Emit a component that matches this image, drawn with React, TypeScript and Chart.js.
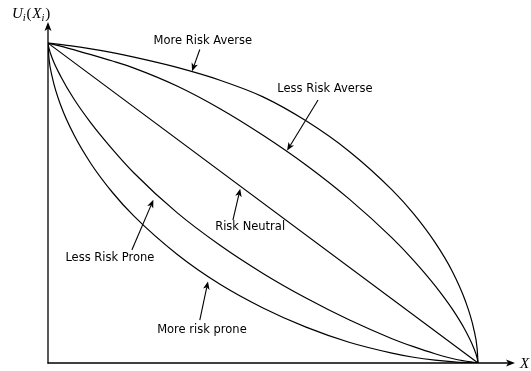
import React, { useEffect, useRef } from "react";
import { Chart, registerables } from "chart.js";
Chart.register(...registerables);

// Wealth grid (normalised X) for the concave / risk averse curves
const tAverse = [0, 0.05, 0.1, 0.15, 0.2, 0.3, 0.4, 0.5, 0.6, 0.7, 0.8, 0.85, 0.9, 0.94, 0.97, 0.99, 0.998, 1];
const uMoreAverse = [1, 0.992, 0.982, 0.97, 0.956, 0.924, 0.884, 0.832, 0.757, 0.662, 0.541, 0.467, 0.377, 0.287, 0.196, 0.107, 0.044, 0];
const uLessAverse = [1, 0.983, 0.964, 0.944, 0.922, 0.866, 0.795, 0.712, 0.619, 0.513, 0.391, 0.321, 0.242, 0.169, 0.103, 0.047, 0.015, 0];
// Risk neutral
const tNeutral = [0, 1];
const uNeutral = [1, 0];
// Grid for the convex / risk prone curves
const tProne = [0, 0.002, 0.01, 0.03, 0.06, 0.1, 0.15, 0.2, 0.3, 0.4, 0.5, 0.6, 0.7, 0.8, 0.85, 0.9, 0.95, 1];
const uLessProne = [1, 0.985, 0.952, 0.895, 0.826, 0.75, 0.668, 0.594, 0.47, 0.368, 0.28, 0.203, 0.135, 0.076, 0.051, 0.029, 0.011, 0];
const uMoreProne = [1, 0.956, 0.893, 0.804, 0.714, 0.623, 0.533, 0.459, 0.34, 0.246, 0.172, 0.112, 0.065, 0.031, 0.018, 0.009, 0.003, 0];

// Annotation texts
const annotationTexts = ["More Risk Averse", "Less Risk Averse", "Risk Neutral", "Less Risk Prone", "More risk prone"];
// label centre, arrow tail, arrow tip (data coords)
const annotationGeometry = [
  { lx: 0.36, ly: 1.006, tx: 0.353, ty: 0.98, hx: 0.335, hy: 0.912 },
  { lx: 0.644, ly: 0.856, tx: 0.628, ty: 0.822, hx: 0.556, hy: 0.664 },
  { lx: 0.47, ly: 0.425, tx: 0.43, ty: 0.447, hx: 0.447, hy: 0.545 },
  { lx: 0.144, ly: 0.328, tx: 0.195, ty: 0.353, hx: 0.245, hy: 0.51 },
  { lx: 0.358, ly: 0.103, tx: 0.353, ty: 0.134, hx: 0.372, hy: 0.255 },
];

const X_MAX = 1.086;
const Y_MAX = 1.066;

function arrow(ctx: CanvasRenderingContext2D, x1: number, y1: number, x2: number, y2: number, len = 8, half = 3.2, lw = 1) {
  const a = Math.atan2(y2 - y1, x2 - x1);
  const dx = Math.cos(a), dy = Math.sin(a);
  const px = -dy, py = dx;
  const bx = x2 - dx * len, by = y2 - dy * len;
  const nx = x2 - dx * len * 0.75, ny = y2 - dy * len * 0.75;
  ctx.save();
  ctx.strokeStyle = "#000";
  ctx.fillStyle = "#000";
  ctx.lineWidth = lw;
  ctx.beginPath();
  ctx.moveTo(x1, y1);
  ctx.lineTo(nx, ny);
  ctx.stroke();
  ctx.beginPath();
  ctx.moveTo(x2, y2);
  ctx.lineTo(bx + px * half, by + py * half);
  ctx.lineTo(nx, ny);
  ctx.lineTo(bx - px * half, by - py * half);
  ctx.closePath();
  ctx.fill();
  ctx.restore();
}

const axesPlugin = {
  id: "axesArrows",
  afterDatasetsDraw(chart: any) {
    const ctx = chart.ctx as CanvasRenderingContext2D;
    const xs = chart.scales.x, ys = chart.scales.y;
    const x0 = xs.getPixelForValue(0), y0 = ys.getPixelForValue(0);
    const xEnd = xs.getPixelForValue(X_MAX), yEnd = ys.getPixelForValue(Y_MAX);
    arrow(ctx, x0, y0 + 0.5, x0, yEnd, 9, 3.5, 1.3);
    arrow(ctx, x0 - 0.5, y0, xEnd, y0, 9, 3.5, 1.3);

    // Axis titles (math italic)
    ctx.save();
    ctx.fillStyle = "#000";
    ctx.textBaseline = "alphabetic";
    const serif = "'Liberation Serif', 'DejaVu Serif', serif";
    let cx = 12;
    const by = 18;
    const parts: [string, string, number][] = [
      ["U", `italic 15px ${serif}`, 0],
      ["i", `italic 10.5px ${serif}`, 3],
      ["(", `15px ${serif}`, 0],
      ["X", `italic 15px ${serif}`, 0],
      ["i", `italic 10.5px ${serif}`, 3],
      [")", `15px ${serif}`, 0],
    ];
    for (const [s, f, off] of parts) {
      ctx.font = f;
      ctx.fillText(s, cx, by + off);
      cx += ctx.measureText(s).width + (s === "U" || s === "X" ? 0 : 0.8);
    }
    ctx.font = `italic 15px ${serif}`;
    ctx.fillText("X", xEnd + 5, y0 + 5);
    ctx.restore();

    // Annotations
    ctx.save();
    ctx.fillStyle = "#000";
    ctx.font = "11.5px 'DejaVu Sans', sans-serif";
    ctx.textAlign = "center";
    ctx.textBaseline = "middle";
    annotationGeometry.forEach((g, i) => {
      ctx.fillText(annotationTexts[i], xs.getPixelForValue(g.lx), ys.getPixelForValue(g.ly));
      arrow(ctx, xs.getPixelForValue(g.tx), ys.getPixelForValue(g.ty), xs.getPixelForValue(g.hx), ys.getPixelForValue(g.hy), 8, 3.3, 1.1);
    });
    ctx.restore();
  },
};

export default function App() {
  const ref = useRef<HTMLCanvasElement>(null);
  useEffect(() => {
    const canvas = ref.current!;
    const pts = (xs: number[], ys: number[]) => xs.map((x, i) => ({ x, y: ys[i] }));
    const line = (data: any) => ({
      data,
      borderColor: "#000",
      borderWidth: 1.2,
      pointRadius: 0,
      fill: false,
      cubicInterpolationMode: "monotone" as const,
    });
    const chart = new Chart(canvas, {
      type: "line",
      data: {
        datasets: [
          line(pts(tAverse, uMoreAverse)),
          line(pts(tAverse, uLessAverse)),
          line(pts(tNeutral, uNeutral)),
          line(pts(tProne, uLessProne)),
          line(pts(tProne, uMoreProne)),
        ],
      },
      options: {
        responsive: false,
        animation: false,
        events: [],
        layout: { padding: { left: 48, right: 16, top: 22, bottom: 8 } },
        scales: {
          x: { type: "linear", min: 0, max: X_MAX, display: false },
          y: { type: "linear", min: 0, max: Y_MAX, display: false },
        },
        plugins: { legend: { display: false }, tooltip: { enabled: false } },
      },
      plugins: [axesPlugin],
    });
    return () => chart.destroy();
  }, []);
  return (
    <div style={{ position: "fixed", left: 0, top: 0, width: 531, height: 371, background: "#fff" }}>
      <canvas ref={ref} width={531} height={371} style={{ display: "block" }} />
    </div>
  );
}
